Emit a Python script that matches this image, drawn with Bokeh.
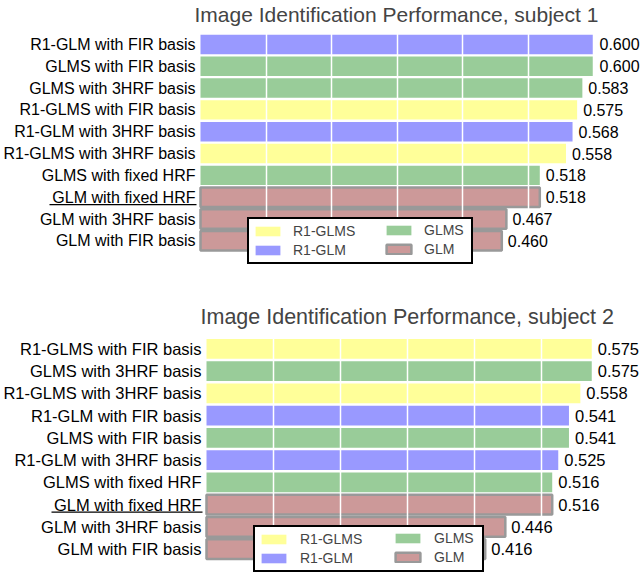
from bokeh.plotting import figure
from bokeh.models import ColumnDataSource, Range1d, Grid, FixedTicker, Legend, LegendItem
from bokeh.layouts import column
from bokeh.embed import file_html
from bokeh.resources import INLINE
from bokeh.core.properties import value

# ---------------- data ----------------
S1_TITLE = "Image Identification Performance, subject 1"
S1_LABELS = ["R1-GLM with FIR basis", "GLMS with FIR basis", "GLMS with 3HRF basis",
             "R1-GLMS with FIR basis", "R1-GLM with 3HRF basis", "R1-GLMS with 3HRF basis",
             "GLMS with fixed HRF", "GLM with fixed HRF", "GLM with 3HRF basis", "GLM with FIR basis"]
S1_VALUES = [0.600, 0.600, 0.583, 0.575, 0.568, 0.558, 0.518, 0.518, 0.467, 0.460]
S1_GROUPS = ["R1-GLM", "GLMS", "GLMS", "R1-GLMS", "R1-GLM", "R1-GLMS", "GLMS", "GLM", "GLM", "GLM"]

S2_TITLE = "Image Identification Performance, subject 2"
S2_LABELS = ["R1-GLMS with FIR basis", "GLMS with 3HRF basis", "R1-GLMS with 3HRF basis",
             "R1-GLM with FIR basis", "GLMS with FIR basis", "R1-GLM with 3HRF basis",
             "GLMS with fixed HRF", "GLM with fixed HRF", "GLM with 3HRF basis", "GLM with FIR basis"]
S2_VALUES = [0.575, 0.575, 0.558, 0.541, 0.541, 0.525, 0.516, 0.516, 0.446, 0.416]
S2_GROUPS = ["R1-GLMS", "GLMS", "R1-GLMS", "R1-GLM", "GLMS", "R1-GLM", "GLMS", "GLM", "GLM", "GLM"]

LEGEND_COL1 = ["R1-GLMS", "R1-GLM"]
LEGEND_COL2 = ["GLMS", "GLM"]
BASELINE_LABEL = "GLM with fixed HRF"
GRID_TICKS = [0.1, 0.2, 0.3, 0.4, 0.5, 0.6]

# ---------------- style ----------------
FONT = "Liberation Sans"
FILL = {"R1-GLMS": "#ffff99", "R1-GLM": "#9999ff", "GLMS": "#99cc99", "GLM": "#cc9999"}
OUTLINE = {"GLM": "#999999"}

CFG1 = dict(W=640, H=302, title_h=24, origin=200, scale=655, row0=43, pitch=21.9,
            font="16px", title_font="21px", title_off=194, gap=5, ul_w=146, ul_dy=7.5,
            leg_x=247, leg_col2=380, leg_y=38, leg_y2=41, leg_w=222, leg_standoff=10)
CFG2 = dict(W=640, H=272, title_h=25, origin=206, scale=670, row0=45.5, pitch=22.33,
            font="16.5px", title_font="21.5px", title_off=200, gap=5, ul_w=150, ul_dy=7.5,
            leg_x=253, leg_col2=389, leg_y=2, leg_y2=5, leg_w=227, leg_standoff=11)


def make_legend(items, loc, c, label_width, boxed):
    return Legend(items=items, location=loc, orientation="vertical",
                  border_line_color="black", border_line_width=2,
                  border_line_alpha=1 if boxed else 0,
                  background_fill_color="white", background_fill_alpha=1 if boxed else 0,
                  padding=3, spacing=1, margin=0,
                  glyph_width=31, glyph_height=12, label_standoff=c["leg_standoff"],
                  label_height=18, label_width=label_width,
                  label_text_font=FONT, label_text_font_size="14px")


def make_chart(title, labels, values, groups, c):
    W, H, O, S = c["W"], c["H"], c["origin"], c["scale"]
    T, row0, pitch = c["title_h"], c["row0"], c["pitch"]
    p = figure(width=W, height=H, output_backend="svg", toolbar_location=None,
               x_axis_location=None, y_axis_location=None, min_border=0,
               x_range=Range1d(-O / S, (W - O) / S),
               y_range=Range1d((H - row0) / pitch, (T - row0) / pitch),
               title=title, outline_line_color=None)
    p.center = [r for r in p.center if not isinstance(r, Grid)]
    p.title.text_font = FONT
    p.title.text_font_size = c["title_font"]
    p.title.text_font_style = "normal"
    p.title.align = "left"
    p.title.offset = c["title_off"]
    p.title.standoff = 0

    rows = list(range(len(labels)))
    rend = {}
    for g in LEGEND_COL1 + LEGEND_COL2:
        idx = [i for i, gg in enumerate(groups) if gg == g]
        src = ColumnDataSource(dict(y=idx, right=[values[i] for i in idx]))
        rend[g] = p.hbar(y="y", left=0, right="right", height=0.89, source=src,
                         fill_color=FILL[g], line_color=OUTLINE.get(g),
                         line_width=2.5 if g in OUTLINE else 0)

    grid = Grid(dimension=0, ticker=FixedTicker(ticks=GRID_TICKS),
                grid_line_color="white", grid_line_width=1.5, level="guide")
    p.add_layout(grid)

    p.text(x=[0] * len(rows), y=rows, text=labels, x_offset=-c["gap"],
           text_align="right", text_baseline="middle", text_color="black",
           text_font=value(FONT), text_font_size=c["font"])
    vr = p.text(x=values, y=rows, text=["%.3f" % v for v in values], x_offset=c["gap"] + 1,
                text_align="left", text_baseline="middle", text_color="black",
                text_font=value(FONT), text_font_size=c["font"])
    vr.level = "annotation"

    b = labels.index(BASELINE_LABEL)
    p.segment(x0=[-(c["gap"] + c["ul_w"]) / S], x1=[-(c["gap"] - 1) / S],
              y0=[b + c["ul_dy"] / pitch], y1=[b + c["ul_dy"] / pitch],
              line_color="black", line_width=1.2)

    inner = c["leg_w"] - 6 - 31 - c["leg_standoff"]
    leg_a = make_legend([LegendItem(label=g, renderers=[rend[g]]) for g in LEGEND_COL1],
                        (c["leg_x"], c["leg_y"]), c, inner, True)
    leg_b = make_legend([LegendItem(label=g, renderers=[rend[g]]) for g in LEGEND_COL2],
                        (c["leg_col2"], c["leg_y2"]), c, 20, False)
    p.add_layout(leg_a)
    p.add_layout(leg_b)
    return p


p1 = make_chart(S1_TITLE, S1_LABELS, S1_VALUES, S1_GROUPS, CFG1)
p2 = make_chart(S2_TITLE, S2_LABELS, S2_VALUES, S2_GROUPS, CFG2)
layout = column(p1, p2, spacing=0)

open("out.html", "w").write(file_html(layout, INLINE))
